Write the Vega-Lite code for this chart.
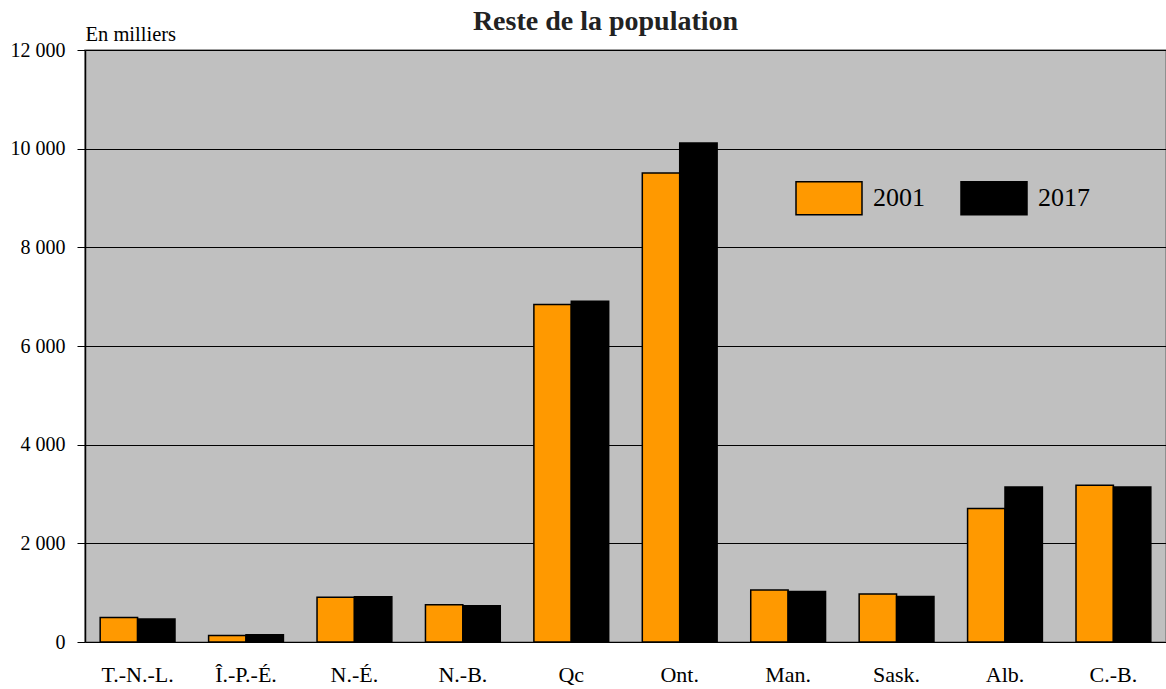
{
  "$schema": "https://vega.github.io/schema/vega-lite/v6.json",
  "width": 1081,
  "height": 592,
  "autosize": {"type": "none"},
  "padding": {"left": 85, "top": 50, "right": 0, "bottom": 47},
  "background": "white",
  "title": {"text": "Reste de la population", "font": "Liberation Serif", "fontSize": 28, "fontWeight": "bold", "color": "#222222", "anchor": "middle", "dx": -20, "offset": -12},
  "data": {"values": [
    {"prov": "T.-N.-L.", "year": "2001", "value": 499},
    {"prov": "T.-N.-L.", "year": "2017", "value": 466},
    {"prov": "Î.-P.-É.", "year": "2001", "value": 130},
    {"prov": "Î.-P.-É.", "year": "2017", "value": 148},
    {"prov": "N.-É.", "year": "2001", "value": 905},
    {"prov": "N.-É.", "year": "2017", "value": 919},
    {"prov": "N.-B.", "year": "2001", "value": 757},
    {"prov": "N.-B.", "year": "2017", "value": 736},
    {"prov": "Qc", "year": "2001", "value": 6842},
    {"prov": "Qc", "year": "2017", "value": 6909},
    {"prov": "Ont.", "year": "2001", "value": 9505},
    {"prov": "Ont.", "year": "2017", "value": 10114},
    {"prov": "Man.", "year": "2001", "value": 1055},
    {"prov": "Man.", "year": "2017", "value": 1022},
    {"prov": "Sask.", "year": "2001", "value": 974},
    {"prov": "Sask.", "year": "2017", "value": 921},
    {"prov": "Alb.", "year": "2001", "value": 2706},
    {"prov": "Alb.", "year": "2017", "value": 3144},
    {"prov": "C.-B.", "year": "2001", "value": 3178},
    {"prov": "C.-B.", "year": "2017", "value": 3144}
  ]},
  "mark": {"type": "bar", "stroke": "black", "strokeWidth": 1.5},
  "encoding": {
    "x": {
      "field": "prov", "type": "nominal", "sort": null,
      "scale": {"paddingInner": 0.31, "paddingOuter": 0.14},
      "axis": {"title": null, "labelAngle": 0, "ticks": false, "domain": false, "labelPadding": 22, "labelFont": "Liberation Serif", "labelFontSize": 22, "labelColor": "black"}
    },
    "xOffset": {"field": "year", "type": "nominal", "scale": {"paddingInner": 0, "paddingOuter": 0}},
    "y": {
      "field": "value", "type": "quantitative",
      "scale": {"domain": [0, 12000], "nice": false},
      "axis": {
        "values": [0, 2000, 4000, 6000, 8000, 10000, 12000],
        "labelExpr": "replace(format(datum.value, ','), ',', ' ')",
        "title": "En milliers", "titleAngle": 0, "titleX": 0, "titleY": -10, "titleAlign": "left", "titleBaseline": "alphabetic",
        "titleFont": "Liberation Serif", "titleFontSize": 20.5, "titleFontWeight": "normal", "titleColor": "black",
        "labelFont": "Liberation Serif", "labelFontSize": 20, "labelColor": "black", "labelPadding": 12,
        "tickSize": 8, "tickColor": "black", "domainColor": "black", "domainWidth": 1.5,
        "grid": true, "gridColor": "black", "gridWidth": 1, "gridOpacity": 1
      }
    },
    "color": {
      "field": "year", "type": "nominal",
      "scale": {"domain": ["2001", "2017"], "range": ["#FF9900", "#000000"]},
      "legend": {
        "title": null, "orient": "none", "direction": "horizontal",
        "legendX": 710, "legendY": 114,
        "symbolType": "M-1,-0.5H1V0.5H-1Z", "symbolSize": 4356, "symbolStrokeColor": "black", "symbolStrokeWidth": 1.5,
        "labelFont": "Liberation Serif", "labelFontSize": 26, "labelColor": "black", "labelOffset": 10,
        "columnPadding": 33, "symbolOpacity": 1
      }
    }
  },
  "config": {
    "view": {"fill": "#C0C0C0", "stroke": "#808080", "strokeWidth": 1.5}
  }
}
